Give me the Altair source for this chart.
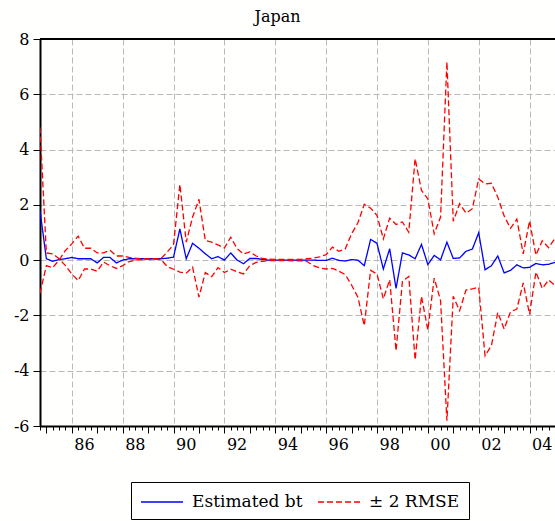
import altair as alt
import pandas as pd

# Quarterly sample: 1984Q4 .. 2005Q1
start_year = 1984
start_quarter = 4
n_obs = 82

estimated_bt = [
    1.80, 0.05, -0.04, 0.02, 0.05, 0.10, 0.05, 0.05, 0.05, -0.10,
    0.10, 0.10, -0.10, 0.00, 0.05, 0.05, 0.05, 0.05, 0.05, 0.05,
    0.07, 0.11, 1.13, 0.05, 0.61, 0.43, 0.23, 0.05, 0.13, 0.00,
    0.26, 0.00, -0.13, 0.06, 0.06, 0.03, 0.00, 0.00, 0.00, 0.00,
    0.00, 0.00, 0.00, 0.00, -0.01, -0.01, 0.07, -0.01, -0.03, 0.02,
    0.00, -0.20, 0.75, 0.61, -0.32, 0.41, -1.02, 0.26, 0.19, 0.05,
    0.57, -0.16, 0.17, 0.01, 0.65, 0.06, 0.08, 0.32, 0.40, 0.99,
    -0.35, -0.20, 0.15, -0.46, -0.37, -0.17, -0.28, -0.26, -0.12, -0.17,
    -0.15, -0.08,
]

band_a = [
    4.80, 0.26, 0.23, 0.05, -0.20, -0.50, -0.74, -0.32, -0.32, -0.40,
    -0.07, -0.20, -0.30, -0.20, -0.05, 0.00, 0.02, 0.03, 0.03, 0.03,
    -0.23, -0.33, -0.43, -0.47, -0.25, -1.34, -0.45, -0.60, -0.27, -0.45,
    -0.33, -0.42, -0.50, -0.20, -0.08, -0.04, -0.02, -0.02, -0.02, -0.02,
    -0.03, -0.03, -0.05, -0.20, -0.28, -0.32, -0.30, -0.40, -0.52, -0.90,
    -1.34, -2.37, -0.37, -0.50, -1.40, -0.71, -3.28, -0.77, -0.59, -3.61,
    -1.31, -2.53, -0.65, -1.46, -5.81, -1.31, -1.83, -1.08, -1.04, -0.98,
    -3.46, -3.09, -1.89, -2.49, -1.87, -1.77, -0.82, -1.96, -0.43, -1.02,
    -0.72, -0.92,
]

band_b = [
    -1.20, -0.20, -0.27, 0.00, 0.35, 0.59, 0.87, 0.43, 0.43, 0.26,
    0.26, 0.36, 0.15, 0.15, 0.10, 0.07, 0.05, 0.05, 0.05, 0.05,
    0.29, 0.56, 2.74, 0.65, 1.56, 2.20, 0.71, 0.65, 0.55, 0.44,
    0.83, 0.42, 0.22, 0.30, 0.15, 0.06, 0.04, 0.03, 0.03, 0.03,
    0.03, 0.03, 0.05, 0.07, 0.12, 0.20, 0.47, 0.32, 0.40, 0.95,
    1.35, 2.02, 1.88, 1.62, 0.77, 1.52, 1.29, 1.38, 1.01, 3.67,
    2.52, 2.22, 0.95, 1.56, 7.17, 1.41, 2.04, 1.70, 1.86, 2.94,
    2.76, 2.78, 2.28, 1.60, 1.15, 1.48, 0.23, 1.42, 0.18, 0.70,
    0.45, 0.79,
]

series_names = ["Estimated bt", "\u00b1 2 RMSE"]
y_ticks = [-6, -4, -2, 0, 2, 4, 6, 8]

t0 = start_year + (start_quarter - 1) / 4
periods = [t0 + 0.25 * k for k in range(n_obs)]
quarter_ticks = [t0 + 0.25 * k for k in range(n_obs)]

rows = []
for t, v in zip(periods, estimated_bt):
    rows.append({"t": t, "value": v, "series": series_names[0], "line": "bt"})
for t, v in zip(periods, band_a):
    rows.append({"t": t, "value": v, "series": series_names[1], "line": "a"})
for t, v in zip(periods, band_b):
    rows.append({"t": t, "value": v, "series": series_names[1], "line": "b"})
df = pd.DataFrame(rows)

W, H = 515, 387
FONT = "DejaVu Serif"

legend = alt.Legend(
    title=None, orient="none", legendX=91, legendY=443, direction="horizontal",
    labelFont=FONT, labelFontSize=17, labelColor="black",
    symbolType="M-1,0H3.2", symbolSize=400, symbolStrokeWidth=1.3,
    columnPadding=12, labelOffset=30, padding=9,
    strokeColor="black", fillColor="white",
)

x_enc = alt.X(
    "t:Q",
    scale=alt.Scale(domain=[t0, 2005.0], nice=False, zero=False),
    axis=alt.Axis(
        values=quarter_ticks,
        title=None,
        tickSize={"condition": {"test": "datum.value % 1 == 0", "value": 7}, "value": 4},
        grid=True,
        gridOpacity={"condition": {"test": "datum.value % 2 == 0", "value": 1}, "value": 0},
        gridDash=[6, 3], gridColor="#b9b9b9", gridWidth=1,
        labelExpr="datum.value % 2 == 0 ? slice(toString(datum.value), 2) : ''",
        labelAlign="left", labelOffset=2, labelPadding=3,
        labelOverlap=False, labelFlush=False, labelBound=False,
    ),
)

y_enc = alt.Y(
    "value:Q",
    scale=alt.Scale(domain=[-6, 8], nice=False, zero=False),
    axis=alt.Axis(
        values=y_ticks, title=None, grid=True,
        gridDash=[6, 3], gridColor="#b9b9b9", gridWidth=1,
        tickSize=7, labelPadding=4,
        labelExpr="toString(datum.value)",
    ),
)

lines = alt.Chart(df).mark_line(strokeWidth=1.3, clip=True).encode(
    x=x_enc,
    y=y_enc,
    color=alt.Color("series:N", scale=alt.Scale(domain=series_names, range=["#0000ff", "#ff0000"]), legend=legend),
    strokeDash=alt.StrokeDash("series:N", scale=alt.Scale(domain=series_names, range=[[1, 0], [6, 3]]), legend=legend),
    detail="line:N",
    order="t:Q",
)

top_border = alt.Chart(pd.DataFrame({"k": [0]})).mark_rule(color="black", strokeWidth=2).encode(
    x=alt.value(0), x2=alt.value(W), y=alt.value(0)
)

chart = alt.layer(lines, top_border).properties(
    width=W, height=H,
    autosize=alt.AutoSizeParams(type="none"),
    padding={"left": 40, "top": 39, "right": 0, "bottom": 95},
    title=alt.TitleParams("Japan", font=FONT, fontSize=16, fontWeight="normal", color="black",
                          anchor="middle", frame="group", dx=-20, offset=6),
    background="#fffffd",
).configure_view(stroke=None).configure_axis(
    labelFont=FONT, labelFontSize=16, labelColor="black",
    domainColor="black", domainWidth=2, tickColor="black", tickWidth=1,
)

chart.save("out.html", embed_options={"renderer": "svg", "actions": False})
